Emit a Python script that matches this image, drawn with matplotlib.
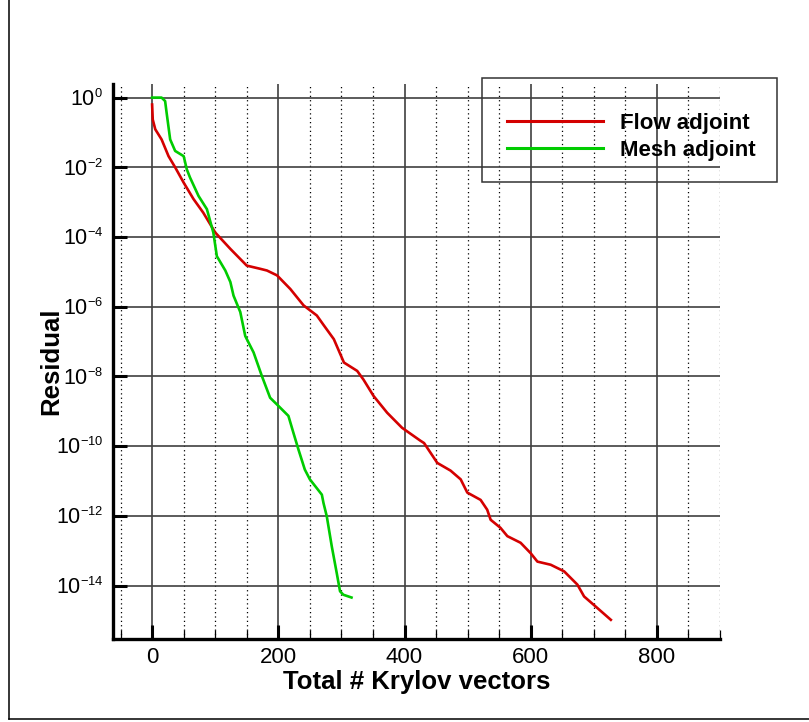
import numpy as np
import matplotlib
matplotlib.use("Agg")
import matplotlib.pyplot as plt
from matplotlib.ticker import MultipleLocator, FixedLocator, NullLocator, FuncFormatter
from matplotlib.lines import Line2D
from matplotlib.patches import Rectangle
try:
    import matplotlib._mathtext as _mt
    _mt.SHRINK_FACTOR = 0.6
except Exception:
    pass

plt.rcParams['font.family'] = ['Liberation Sans', 'DejaVu Sans']
plt.rcParams['mathtext.fontset'] = 'custom'
plt.rcParams['mathtext.rm'] = 'Liberation Sans'
plt.rcParams['mathtext.it'] = 'Liberation Sans:italic'
plt.rcParams['mathtext.bf'] = 'Liberation Sans:bold'
plt.rcParams['axes.unicode_minus'] = False

# ---- data (x = total Krylov vectors, y = log10 residual) ----
flow_x = [0, 1, 5, 15, 26, 36.5, 50, 65.6, 81, 100, 124, 150, 171, 182, 198, 219, 240,
          261, 272, 288, 304, 325, 335, 351, 372.5, 396, 425, 431, 452, 473, 489, 499.5,
          520.6, 531, 536.5, 552, 563, 584, 600, 610.6, 631.7, 653, 674, 684.6, 700.5, 727]
flow_logres = [-0.2, -0.63, -0.91, -1.2, -1.68, -2.0, -2.44, -2.91, -3.3, -3.87, -4.34, -4.82,
               -4.91, -4.96, -5.1, -5.49, -5.96, -6.25, -6.53, -6.93, -7.6, -7.84, -8.09,
               -8.56, -9.04, -9.47, -9.84, -9.91, -10.48, -10.7, -10.95, -11.33, -11.54,
               -11.82, -12.11, -12.34, -12.58, -12.77, -13.07, -13.31, -13.4, -13.59,
               -13.97, -14.31, -14.56, -14.98]
mesh_x = [0, 15, 20.6, 23, 28.6, 36.5, 50, 55, 60, 73.5, 86.8, 97, 102.6, 116, 124, 129,
          139.7, 147.6, 160.8, 174, 187, 200.5, 216, 224, 232, 242, 250, 269, 271.6,
          276.8, 284.7, 292.6, 297.8, 303, 316]
mesh_logres = [0.0, 0.0, -0.1, -0.44, -1.2, -1.53, -1.68, -2.06, -2.29, -2.82, -3.2, -3.87,
               -4.55, -4.96, -5.29, -5.68, -6.15, -6.84, -7.31, -7.99, -8.61, -8.85, -9.13,
               -9.62, -10.1, -10.67, -10.95, -11.39, -11.63, -12.01, -12.87, -13.64,
               -14.16, -14.26, -14.34]
series_labels = ["Flow adjoint", "Mesh adjoint"]
xtick_values = [0, 200, 400, 600, 800]
ytick_exponents = [0, -2, -4, -6, -8, -10, -12, -14]

flow_res = 10.0 ** np.array(flow_logres)
mesh_res = 10.0 ** np.array(mesh_logres)

W, H = 809, 722
fig = plt.figure(figsize=(W / 100, H / 100), dpi=100)
fig.patch.set_facecolor('white')
ax_w, ax_h = 720 - 113, 639 - 84
ax = fig.add_axes([113 / W, 1 - 639 / H, ax_w / W, ax_h / H])

ax.plot(flow_x, flow_res, color='#d40000', lw=1.9, label=series_labels[0], zorder=3)
ax.plot(mesh_x, mesh_res, color='#00cc00', lw=1.9, label=series_labels[1], zorder=3)

ax.set_yscale('log')
ax.set_xlim(-62, 900)
ax.set_ylim(10 ** -15.53, 10 ** 0.39)

ax.xaxis.set_major_locator(FixedLocator(xtick_values))
ax.xaxis.set_minor_locator(MultipleLocator(50))
ax.yaxis.set_major_locator(FixedLocator([10.0 ** e for e in ytick_exponents]))
ax.yaxis.set_minor_locator(NullLocator())
ax.yaxis.set_major_formatter(FuncFormatter(lambda v, p: r'$10^{%d}$' % int(round(np.log10(v)))))

ax.grid(which='major', axis='both', color='#404040', lw=1.2, ls='-', zorder=0)
ax.grid(which='minor', axis='x', color='black', lw=0.9, ls=(0, (1, 2.5)), zorder=0)

ax.tick_params(which='major', direction='in', length=10, width=2.2, labelsize=16, pad=6)
ax.tick_params(axis='y', which='major', labelsize=15.5, pad=7)
ax.tick_params(which='minor', direction='in', length=6.5, width=0.9)

for s in ['top', 'right']:
    ax.spines[s].set_visible(False)
for s in ['left', 'bottom']:
    ax.spines[s].set_linewidth(2.4)

ax.set_xlabel('Total # Krylov vectors', fontsize=18.5, fontweight='bold')
ax.set_ylabel('Residual', fontsize=18.5, fontweight='bold')
ax.xaxis.set_label_coords(0.5, -(670 - 639) / ax_h)
ax.yaxis.set_label_coords(-(113 - 63) / ax_w, 0.5)

# legend
fig.add_artist(Rectangle((482 / W, 1 - 182 / H), 295 / W, 104 / H, transform=fig.transFigure,
                         fill=False, edgecolor='#333333', lw=1.1))
leg = ax.legend(loc='upper left', bbox_to_anchor=(496 / W, 1 - 101.5 / H),
                bbox_transform=fig.transFigure, frameon=False, borderpad=0,
                handlelength=4.31, handletextpad=0.75, labelspacing=0.28,
                prop={'weight': 'bold', 'size': 16})
for ln in leg.get_lines():
    ln.set_linewidth(2.2)

# outer frame
fig.add_artist(Line2D([8.5 / W, 8.5 / W], [3 / H, 1.0], transform=fig.transFigure,
                      color='black', lw=1.1))
fig.add_artist(Line2D([8.5 / W, 1.0], [3 / H, 3 / H], transform=fig.transFigure,
                      color='black', lw=1.1))

fig.savefig('out.png', dpi=100)
